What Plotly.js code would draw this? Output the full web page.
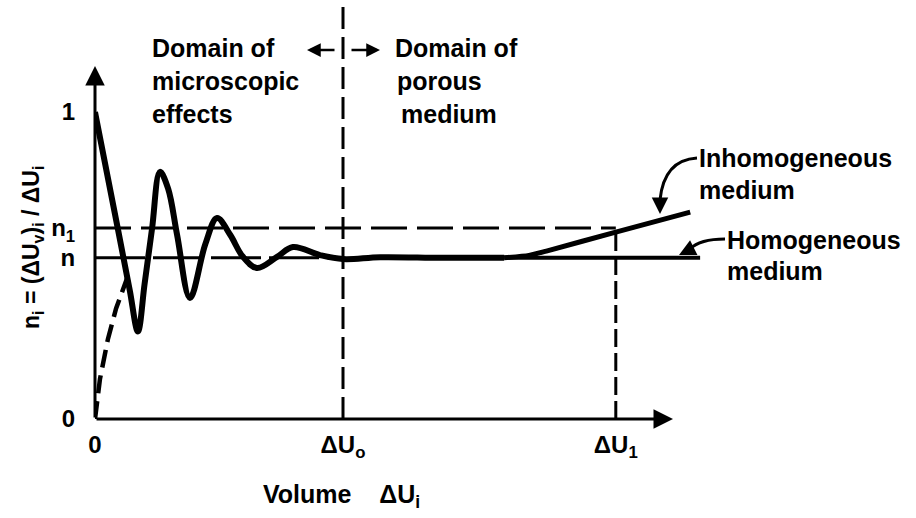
<!DOCTYPE html>
<html>
<head>
<meta charset="utf-8">
<script src="https://cdn.plot.ly/plotly-3.0.1.min.js"></script>
<style>html,body{margin:0;padding:0;background:#fff;}#chart{width:916px;height:518px;}</style>
</head>
<body>
<div id="chart"></div>
<script>
// ---- data ----
// main measured curve: porosity n_i versus averaging volume (domain of microscopic effects -> porous medium)
const curveX = [0, 0.93, 1.40, 1.73, 2.00, 2.30, 2.62, 2.95, 3.31, 3.83, 4.45, 4.92, 5.45, 5.95, 6.53, 7.34, 7.98, 9.07, 10.0, 11.5, 14.0, 16.5];
const curveY = [1.0, 0.616, 0.42, 0.285, 0.44, 0.62, 0.805, 0.75, 0.60, 0.394, 0.57, 0.655, 0.60, 0.53, 0.492, 0.528, 0.560, 0.534, 0.521, 0.527, 0.525, 0.525];
// dashed branch from the origin
const dashX = [0, 0.2, 0.52, 0.85, 1.3];
const dashY = [0, 0.13, 0.26, 0.36, 0.46];
// inhomogeneous medium branch
const inhomX = [16.5, 17.5, 18.2, 21.0, 24.0];
const inhomY = [0.525, 0.533, 0.547, 0.609, 0.674];
// homogeneous medium branch
const homX = [16.5, 24.4];
const homY = [0.525, 0.525];
// reference levels / volumes
const nBar = 0.525;
const n1 = 0.622;
const dU0 = 10;
const dU1 = 21;
// tick labels
const xTickVals = [0, dU0, dU1];
const xTickText = ['<b>0</b>', '<b>ΔU<sub>o</sub></b>', '<b>ΔU<sub>1</sub></b>'];
const yTickVals = [0, nBar, n1, 1];
const yTickText = ['<b>0</b>', '<b>n</b>', '<b>n<sub>1</sub></b>', '<b>1</b>'];

// ---- geometry helpers (pixel -> axis units) ----
const L = 95, B = 419, SX = 24.8, SY = 307, W = 916, H = 518;
const dx = px => (px - L) / SX;
const dy = py => (B - py) / SY;
const paperX = px => (px - L) / (W - L);
const paperY = py => (B - py) / B;

const FONT = 'Liberation Sans, Arial, sans-serif';
const BLK = '#000';

const traces = [
  {x: curveX, y: curveY, mode: 'lines', line: {color: BLK, width: 6, shape: 'spline', smoothing: 1}, hoverinfo: 'skip'},
  {x: dashX, y: dashY, mode: 'lines', line: {color: BLK, width: 4.5, dash: '18px,8px'}, hoverinfo: 'skip'},
  {x: inhomX, y: inhomY, mode: 'lines', line: {color: BLK, width: 5, shape: 'spline', smoothing: 0.6}, hoverinfo: 'skip'},
  {x: homX, y: homY, mode: 'lines', line: {color: BLK, width: 4}, hoverinfo: 'skip'}
];

const shapes = [
  // vertical dashed line at ΔU0
  {type: 'line', xref: 'x', yref: 'y', x0: dU0, x1: dU0, y0: 0, y1: dy(0), line: {color: BLK, width: 3, dash: '22px,8px'}},
  // vertical dashed line at ΔU1
  {type: 'line', xref: 'x', yref: 'y', x0: dU1, x1: dU1, y0: 0, y1: n1 - 0.012, line: {color: BLK, width: 3, dash: '18px,6px'}},
  // n1 dashed level
  {type: 'line', xref: 'x', yref: 'y', x0: 0, x1: dU1, y0: n1, y1: n1, line: {color: BLK, width: 3, dash: '36px,10px'}},
  // n level
  {type: 'line', xref: 'x', yref: 'y', x0: 0, x1: dU0, y0: nBar, y1: nBar, line: {color: BLK, width: 3, dash: '50px,8px'}},
  // callout curves
  {type: 'path', xref: 'x', yref: 'y', path: `M ${dx(697)},${dy(158)} Q ${dx(664)},${dy(160)} ${dx(660)},${dy(200)}`, line: {color: BLK, width: 3}},
  {type: 'path', xref: 'x', yref: 'y', path: `M ${dx(725)},${dy(239)} Q ${dx(700)},${dy(239)} ${dx(690)},${dy(249)}`, line: {color: BLK, width: 3}}
];

const txt = (text, px, py, xanchor, size) => ({
  text: '<b>' + text + '</b>', xref: 'paper', yref: 'paper', x: paperX(px), y: paperY(py),
  xanchor: xanchor || 'left', yanchor: 'middle', showarrow: false,
  font: {family: FONT, size: size || 25, color: BLK}
});
const arrow = (tx, ty, hx, hy, w, s) => ({
  text: '', xref: 'x', yref: 'y', axref: 'x', ayref: 'y',
  x: dx(hx), y: dy(hy), ax: dx(tx), ay: dy(ty), showarrow: true,
  arrowhead: 2, arrowsize: s || 1.2, arrowwidth: w || 3, arrowcolor: BLK
});

const annotations = [
  // axes with arrow heads
  arrow(L, B, 673, B, 3, 1.3),
  arrow(L, B, L, 66, 3, 1.3),
  // domain arrows
  arrow(336, 50, 307, 50, 2.5, 1.1),
  arrow(350, 50, 380, 50, 2.5, 1.1),
  // callout arrow heads
  arrow(660, 199, 660, 214, 3, 1.1),
  arrow(691, 249, 679, 255, 3, 1.1),
  // domain texts
  txt('Domain of', 150, 48), txt('microscopic', 150, 81), txt('effects', 150, 114),
  txt('Domain of', 393, 48), txt('porous', 395, 81), txt('medium', 399, 114),
  // branch labels
  txt('Inhomogeneous', 697, 158), txt('medium', 697, 190),
  txt('Homogeneous', 725, 240), txt('medium', 725, 271),
  // axis titles
  txt('Volume\u00a0\u00a0\u00a0 ΔU<sub>i</sub>', 341, 496, 'center', 25),
  Object.assign(txt('n<sub>i</sub> = (ΔU<sub>v</sub>)<sub>i</sub> / ΔU<sub>i</sub>', 32, 248, 'center', 23), {textangle: -90})
];

const layout = {
  width: W, height: H, autosize: false,
  margin: {l: L, r: 0, t: 0, b: H - B, pad: 0},
  paper_bgcolor: '#fff', plot_bgcolor: '#fff',
  showlegend: false,
  font: {family: FONT, color: BLK},
  xaxis: {
    range: [0, dx(W)], showgrid: false, zeroline: false, showline: false,
    tickvals: xTickVals, ticktext: xTickText, ticks: 'outside', ticklen: 4, tickcolor: 'rgba(0,0,0,0)',
    tickfont: {family: FONT, size: 24, color: BLK}, fixedrange: true
  },
  yaxis: {
    range: [0, dy(0)], showgrid: false, zeroline: false, showline: false,
    tickvals: yTickVals, ticktext: yTickText, ticks: 'outside', ticklen: 14, tickcolor: 'rgba(0,0,0,0)',
    tickfont: {family: FONT, size: 24, color: BLK}, fixedrange: true
  },
  shapes: shapes,
  annotations: annotations
};

Plotly.newPlot('chart', traces, layout, {staticPlot: true, displayModeBar: false});
</script>
</body>
</html>
